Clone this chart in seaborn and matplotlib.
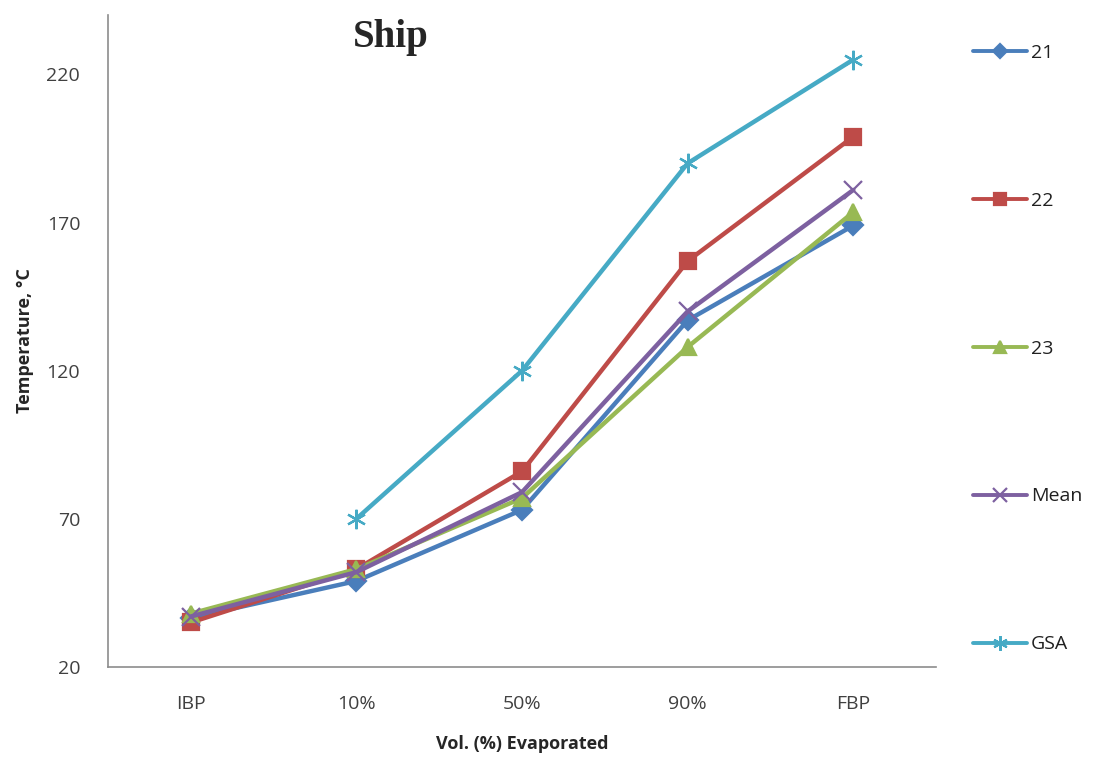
import numpy as np
import pandas as pd
import seaborn as sns
import matplotlib
matplotlib.use("Agg")
import matplotlib.pyplot as plt

# data
categories = ["IBP", "10%", "50%", "90%", "FBP"]
s21 = [36.5, 49, 73, 137, 169]
s22 = [35, 53, 86, 157, 199]
s23 = [38, 53, 77, 128, 173.5]
s_mean = [37, 52, 79, 140, 181]
s_gsa = [np.nan, 70, 120, 190, 225]

series_names = ["21", "22", "23", "Mean", "GSA"]
series_vals = [s21, s22, s23, s_mean, s_gsa]

palette = {"21": "#4A7EBB", "22": "#BE4B48", "23": "#98B954",
           "Mean": "#7D60A0", "GSA": "#46AAC5"}
markers = {"21": "D", "22": "s", "23": "^", "Mean": "x", "GSA": (6, 2, 0)}
msizes = {"21": 10, "22": 12, "23": 12, "Mean": 13, "GSA": 14}

sns.set_style("white")
plt.rcParams['font.family'] = ['Open Sans', 'DejaVu Sans']

fig = plt.figure(figsize=(10.94, 7.57), dpi=100)
ax = fig.add_axes([0.0987, 0.119, 0.757, 0.861])

# one lineplot per series (seaborn can't mix filled and line markers)
for name, vals in zip(series_names, series_vals):
    d = pd.DataFrame({"pos": range(len(categories)), "temp": vals}).dropna()
    c = palette[name]
    sns.lineplot(data=d, x="pos", y="temp", color=c, marker=markers[name],
                 markersize=msizes[name], markeredgewidth=1.6,
                 markeredgecolor=c, markerfacecolor=c,
                 linewidth=3.2, label=name, ax=ax)

ax.set_xlim(-0.5, 4.5)
ax.set_ylim(20, 240)
ax.set_xticks(range(len(categories)))
ax.set_xticklabels(categories)
ax.set_yticks([20, 70, 120, 170, 220])
ax.tick_params(axis="both", labelsize=14, colors="#404040", length=0)
ax.tick_params(axis="y", pad=20)
ax.tick_params(axis="x", pad=20)

for side in ["top", "right"]:
    ax.spines[side].set_visible(False)
for side in ["left", "bottom"]:
    ax.spines[side].set_color("#8c8c8c")
    ax.spines[side].set_linewidth(1.2)

ax.set_xlabel("Vol. (%) Evaporated", fontsize=13, fontweight="bold", labelpad=16)
ax.set_ylabel("Temperature, °C", fontsize=13, fontweight="bold", labelpad=9)

ax.text(0.341, 0.965, "Ship", transform=ax.transAxes, ha="center", va="center",
        fontsize=28, fontweight="bold", family="Liberation Serif")

leg = ax.legend(loc="upper left", bbox_to_anchor=(1.035, 0.968),
                frameon=False, fontsize=14, labelspacing=6.68, handlelength=2.8,
                handletextpad=0.2, borderaxespad=0)
# legend keeps its own copies of the lines, shrink only those
for h in leg.legend_handles:
    h.set_markersize(h.get_markersize() * 0.75)
    h.set_linewidth(2.8)
for t in leg.get_texts():
    t.set_color("#202020")

fig.savefig("out.png", dpi=100)
